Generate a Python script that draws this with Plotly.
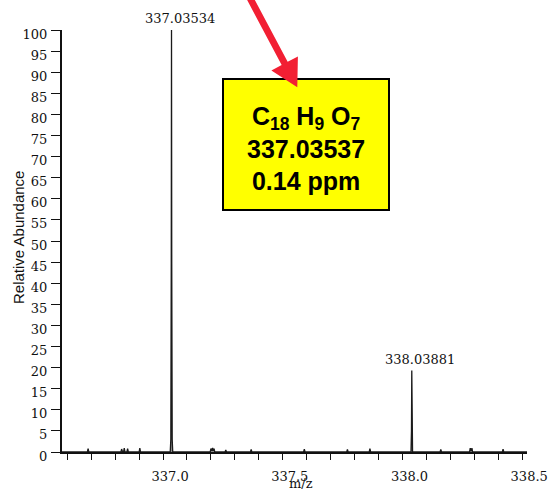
import numpy as np
import plotly.graph_objects as go

# Profile spectrum: m/z and relative abundance (%)
mz = [
    336.578, 336.684, 336.687, 336.690,
    336.824, 336.827, 336.831, 336.835, 336.838, 336.841,
    336.849, 336.852, 336.855,
    336.900, 336.903, 336.906,
    337.0300, 337.0325, 337.0343, 337.03534, 337.0363, 337.0382, 337.0405,
    337.197, 337.200, 337.204, 337.207, 337.210, 337.213, 337.216,
    337.259, 337.262, 337.265,
    337.365, 337.368, 337.371,
    337.587, 337.590, 337.593,
    337.767, 337.770, 337.773,
    337.861, 337.864, 337.867,
    338.0355, 338.0375, 338.03881, 338.0400, 338.0420,
    338.157, 338.160, 338.163,
    338.280, 338.283, 338.2865, 338.290, 338.293,
    338.417, 338.420, 338.423,
    338.520,
]
abundance = [
    0, 0, 0.8, 0,
    0, 0.7, 0, 0, 0.9, 0,
    0, 0.8, 0,
    0, 0.9, 0,
    0, 3, 45, 100, 45, 3, 0,
    0, 0.8, 0.3, 1.0, 0.3, 0.8, 0,
    0, 0.5, 0,
    0, 0.6, 0,
    0, 0.7, 0,
    0, 0.6, 0,
    0, 0.8, 0,
    0, 5, 19.3, 5, 0,
    0, 0.6, 0,
    0, 0.9, 0.2, 0.9, 0,
    0, 0.7, 0,
    0,
]

# Labelled centroid peaks
peak_mz = [337.03534, 338.03881]
peak_abundance = [100, 19.3]
peak_labels = ["337.03534", "338.03881"]

# Assigned formula
formula_lines = ["C<sub>18</sub> H<sub>9</sub> O<sub>7</sub>", "337.03537", "0.14 ppm"]

x_tick_vals = [337.0, 337.5, 338.0, 338.5]
y_tick_vals = list(range(0, 101, 5))

W, H = 548, 491
L, R, T, B = 62, 21, 30, 39
PW, PH = W - L - R, H - T - B


def px(x):
    return (x - L) / PW


def py(y):
    return (H - B - y) / PH


fig = go.Figure()
fig.add_trace(go.Scatter(
    x=mz, y=abundance, mode="lines",
    line=dict(color="#1a1a1a", width=1.3),
    fill="tozeroy", fillcolor="#8a8a8a",
    hoverinfo="skip", showlegend=False,
))

serif = "DejaVu Serif"
sans = "Arial"

for xm, ya, lab in zip(peak_mz, peak_abundance, peak_labels):
    fig.add_annotation(
        x=xm, y=ya, xref="x", yref="y", text=lab, showarrow=False,
        yanchor="bottom", yshift=2, xshift=8,
        font=dict(family=serif, size=13, color="#111"),
    )

# Formula box
fig.add_shape(type="rect", xref="paper", yref="paper",
              x0=px(223), x1=px(389), y0=py(210), y1=py(79),
              fillcolor="#ffff00", line=dict(color="black", width=2), layer="above")

# Red arrow pointing at the box
tip = np.array([297.3, 87.3])
d = np.array([46.3, 87.3])
d = d / np.linalg.norm(d)
n = np.array([d[1], -d[0]])
head_len, head_half, shaft_half = 27.0, 15.0, 3.4
base = tip - head_len * d
tail = tip - 110 * d
pts = [tail + shaft_half * n, base + shaft_half * n, base + head_half * n, tip,
       base - head_half * n, base - shaft_half * n, tail - shaft_half * n]
path = "M " + " L ".join(f"{px(p[0]):.5f},{py(p[1]):.5f}" for p in pts) + " Z"
fig.add_shape(type="path", xref="paper", yref="paper", path=path,
              fillcolor="#f21f33", line=dict(width=0), layer="above")

fig.add_annotation(
    x=px(306), y=py(148), xref="paper", yref="paper",
    text="<br>".join(formula_lines), showarrow=False,
    xanchor="center", yanchor="middle", align="center",
    font=dict(family=sans, size=25, color="black", weight="bold"),
)

# Axis titles
fig.add_annotation(
    x=px(18), y=py(238), xref="paper", yref="paper", text="Relative Abundance",
    textangle=-90, showarrow=False, xanchor="center", yanchor="middle",
    font=dict(family=sans, size=15, color="#111"),
)
fig.add_annotation(
    x=px(301), y=py(484), xref="paper", yref="paper", text="m/z",
    showarrow=False, xanchor="center", yanchor="middle",
    font=dict(family=serif, size=13, color="#111"),
)

fig.update_layout(
    width=W, height=H,
    margin=dict(l=L, r=R, t=T, b=B, pad=0, autoexpand=False),
    paper_bgcolor="white", plot_bgcolor="white",
    showlegend=False,
    xaxis=dict(
        range=[336.578, 338.52], showgrid=False, zeroline=False, automargin=False,
        showline=True, linecolor="#111", linewidth=2,
        tickmode="array", tickvals=x_tick_vals, ticktext=[f"{v:.1f}" for v in x_tick_vals],
        ticks="outside", ticklen=6, tickwidth=1.2, tickcolor="#111",
        ticklabelshift=7, ticklabelstandoff=5,
        tickfont=dict(family=serif, size=13, color="#111"),
        minor=dict(dtick=0.1, tick0=337.0, ticks="outside", ticklen=6,
                   tickwidth=1.2, tickcolor="#111", showgrid=False),
    ),
    yaxis=dict(
        range=[0, 100], showgrid=False, zeroline=False, automargin=False,
        showline=True, linecolor="#111", linewidth=2,
        tickmode="array", tickvals=y_tick_vals,
        ticks="outside", ticklen=9, tickwidth=1.2, tickcolor="#111",
        ticklabelshift=4, ticklabelstandoff=1,
        tickfont=dict(family=serif, size=13, color="#111"),
    ),
)

fig.write_html("out.html")
